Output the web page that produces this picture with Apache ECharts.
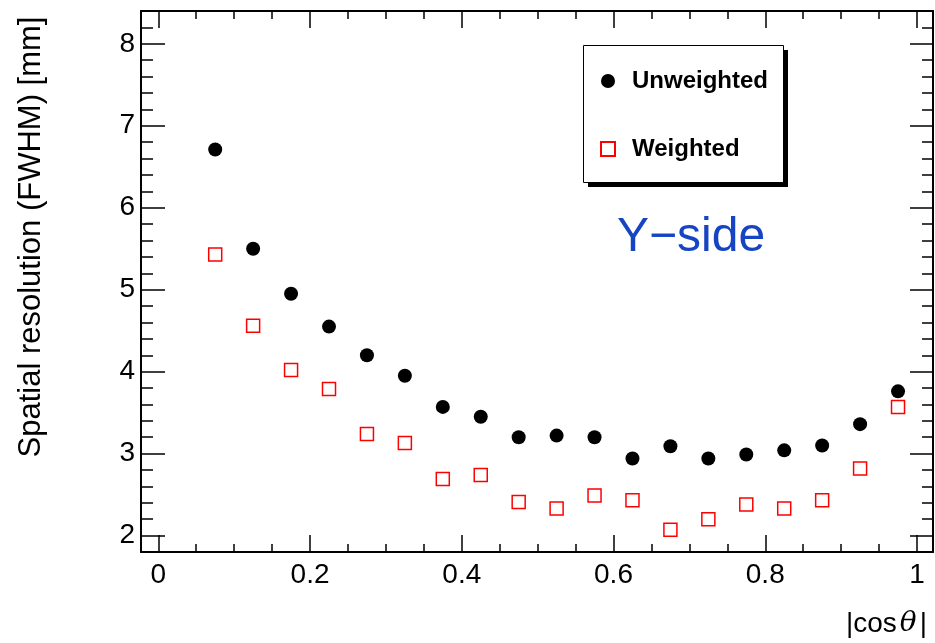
<!DOCTYPE html>
<html>
<head>
<meta charset="utf-8">
<script src="https://cdn.jsdelivr.net/npm/echarts@6/dist/echarts.min.js"></script>
<style>
html,body{margin:0;padding:0;background:#fff;}
#chart{width:935px;height:643px;}
</style>
</head>
<body>
<div id="chart"></div>
<script>
// ---- data ----
const cosTheta = [0.075,0.125,0.175,0.225,0.275,0.325,0.375,0.425,0.475,0.525,0.575,0.625,0.675,0.725,0.775,0.825,0.875,0.925,0.975];
const unweighted = [6.71,5.50,4.95,4.55,4.20,3.95,3.57,3.45,3.20,3.22,3.20,2.94,3.09,2.94,2.99,3.04,3.10,3.36,3.76];
const weighted = [5.43,4.56,4.02,3.79,3.24,3.13,2.69,2.74,2.41,2.33,2.49,2.43,2.07,2.20,2.38,2.33,2.43,2.82,3.57];
const xMajorTicks = [0,0.2,0.4,0.6,0.8,1];
const xMinorTicks = [0.05,0.1,0.15,0.25,0.3,0.35,0.45,0.5,0.55,0.65,0.7,0.75,0.85,0.9,0.95];
const yMajorTicks = [2,3,4,5,6,7,8];
const yMinorTicks = [2.2,2.4,2.6,2.8,3.2,3.4,3.6,3.8,4.2,4.4,4.6,4.8,5.2,5.4,5.6,5.8,6.2,6.4,6.6,6.8,7.2,7.4,7.6,7.8,8.2];
const seriesNames = ['Unweighted','Weighted'];
const yTitle = 'Spatial resolution (FWHM) [mm]';
const panelLabel = 'Y\u2212side';

const XMIN = -0.0228, XMAX = 1.0211, YMIN = 1.8, YMAX = 8.4;
const FONT = 'Liberation Sans, Arial, Helvetica, sans-serif';
const tickStyle = {color:'#000', width:1.5};

function xAx(pos, ticks, len, showLabel, showLine){
  return {
    type:'value', position:pos, min:XMIN, max:XMAX,
    axisLine:{show:showLine, onZero:false, lineStyle:{color:'#000', width:2}},
    axisTick:{show:true, inside:true, length:len, customValues:ticks, lineStyle:tickStyle},
    axisLabel:{show:showLabel, customValues:ticks, fontSize:28, fontFamily:FONT, color:'#000', margin:9},
    splitLine:{show:false}
  };
}
function yAx(pos, ticks, len, showLabel, showLine){
  return {
    type:'value', position:pos, min:YMIN, max:YMAX,
    axisLine:{show:showLine, onZero:false, lineStyle:{color:'#000', width:2}},
    axisTick:{show:true, inside:true, length:len, customValues:ticks, lineStyle:tickStyle},
    axisLabel:{show:showLabel, customValues:ticks, fontSize:28, fontFamily:FONT, color:'#000', margin:6},
    splitLine:{show:false}
  };
}

const chart = echarts.init(document.getElementById('chart'));
chart.setOption({
  animation:false,
  backgroundColor:'#fff',
  grid:{left:141, right:2, top:11, bottom:91, containLabel:false},
  xAxis:[
    xAx('bottom', xMajorTicks, 17, true, true),
    xAx('bottom', xMinorTicks, 8, false, false),
    xAx('top', xMajorTicks, 17, false, true),
    xAx('top', xMinorTicks, 8, false, false)
  ],
  yAxis:[
    yAx('left', yMajorTicks, 24, true, true),
    yAx('left', yMinorTicks, 12, false, false),
    yAx('right', yMajorTicks, 23, false, true),
    yAx('right', yMinorTicks, 11, false, false)
  ],
  legend:{
    orient:'vertical', left:583, top:45, z:10,
    padding:[24, 14, 25, 17],
    itemGap:44, itemWidth:14, itemHeight:14,
    textStyle:{fontFamily:FONT, fontWeight:'bold', fontSize:24, color:'#000', lineHeight:20, padding:[0,0,0,12]},
    data:seriesNames
  },
  series:[
    {
      name:seriesNames[0], type:'scatter', xAxisIndex:0, yAxisIndex:0,
      symbol:'circle', symbolSize:14,
      itemStyle:{color:'#000', opacity:1},
      data:cosTheta.map((x,i)=>[x, unweighted[i]])
    },
    {
      name:seriesNames[1], type:'scatter', xAxisIndex:0, yAxisIndex:0,
      symbol:'rect', symbolSize:13,
      itemStyle:{color:'rgba(255,255,255,0)', borderColor:'#ff0000', borderWidth:1.5, opacity:1},
      data:cosTheta.map((x,i)=>[x, weighted[i]])
    }
  ],
  graphic:[
    {
      type:'rect', z:5, shape:{x:588, y:50, width:200, height:137},
      style:{fill:'#000'}
    },
    {
      type:'rect', z:6, shape:{x:583.5, y:45.5, width:200, height:137},
      style:{fill:'#fff', stroke:'#000', lineWidth:1}
    },
    {
      type:'text', x:617, y:238,
      style:{text:panelLabel, fontFamily:FONT, fontSize:48, fill:'#1545c3', textAlign:'left', textVerticalAlign:'middle'}
    },
    {
      type:'text', x:930, y:624,
      style:{
        text:'{n||cos}{t|\u03b8}{n||}',
        textAlign:'right', textVerticalAlign:'middle',
        rich:{
          n:{fontFamily:FONT, fontSize:28, fill:'#000', padding:[0,3,0,3]},
          t:{fontFamily:'DejaVu Serif, serif', fontStyle:'italic', fontSize:28, fill:'#000'}
        }
      }
    },
    {
      type:'text', x:31, y:237, rotation:Math.PI/2,
      style:{text:yTitle, fontFamily:FONT, fontSize:31, fill:'#000', textAlign:'center', textVerticalAlign:'middle'}
    }
  ]
});
</script>
</body>
</html>
